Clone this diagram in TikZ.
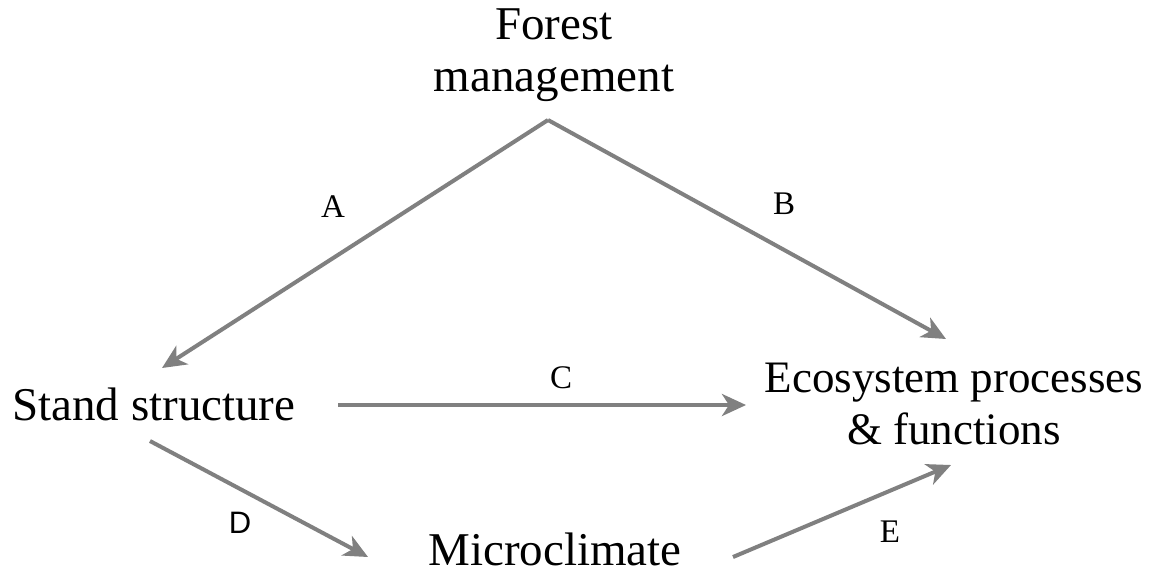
\documentclass[tikz,border=0pt]{standalone}
\usepackage{fontspec}
\setmainfont{Liberation Serif}
\newfontfamily\labsans{Liberation Sans}
\usetikzlibrary{arrows.meta}
\begin{document}
\begin{tikzpicture}[x=1pt,y=-1pt,
  box/.style={font=\fontsize{47}{52}\selectfont, align=center, inner sep=0pt},
  lab/.style={font=\fontsize{33}{36}\selectfont, inner sep=0pt},
  conn/.style={draw=black!50, line width=4pt, -{Stealth[length=24pt,width=22pt,inset=7pt]}}]
\useasboundingbox[fill=white] (0,0) rectangle (1150,574);
\node[box] (fm) at (554,55) {Forest\\management};
\node[box,anchor=west] (ss) at (12,404) {Stand structure};
\node[box,font=\fontsize{45}{52}\selectfont] (ep) at (954,404) {Ecosystem processes\\\& functions};
\node[box] (mc) at (555,549) {Microclimate};
\coordinate (top) at (548,120);
\coordinate (aend) at (162,368);
\coordinate (bend) at (946,339);
\coordinate (cs) at (338,405);
\coordinate (ce) at (746,405);
\coordinate (ds) at (150,441);
\coordinate (de) at (368,557);
\coordinate (es) at (733,557);
\coordinate (ee) at (951,465);
\draw[conn] (top) -- (aend);
\draw[conn] (top) -- (bend);
\draw[conn] (cs) -- (ce);
\draw[conn] (ds) -- (de);
\draw[conn] (es) -- (ee);
\node[lab] (la) at (333,207) {A};
\node[lab] (lb) at (784,204) {B};
\node[lab] (lc) at (561,378) {C};
\node[lab,font=\labsans\fontsize{31}{34}\selectfont] (ld) at (240,523) {D};
\node[lab] (le) at (890,532) {E};
\end{tikzpicture}
\end{document}
